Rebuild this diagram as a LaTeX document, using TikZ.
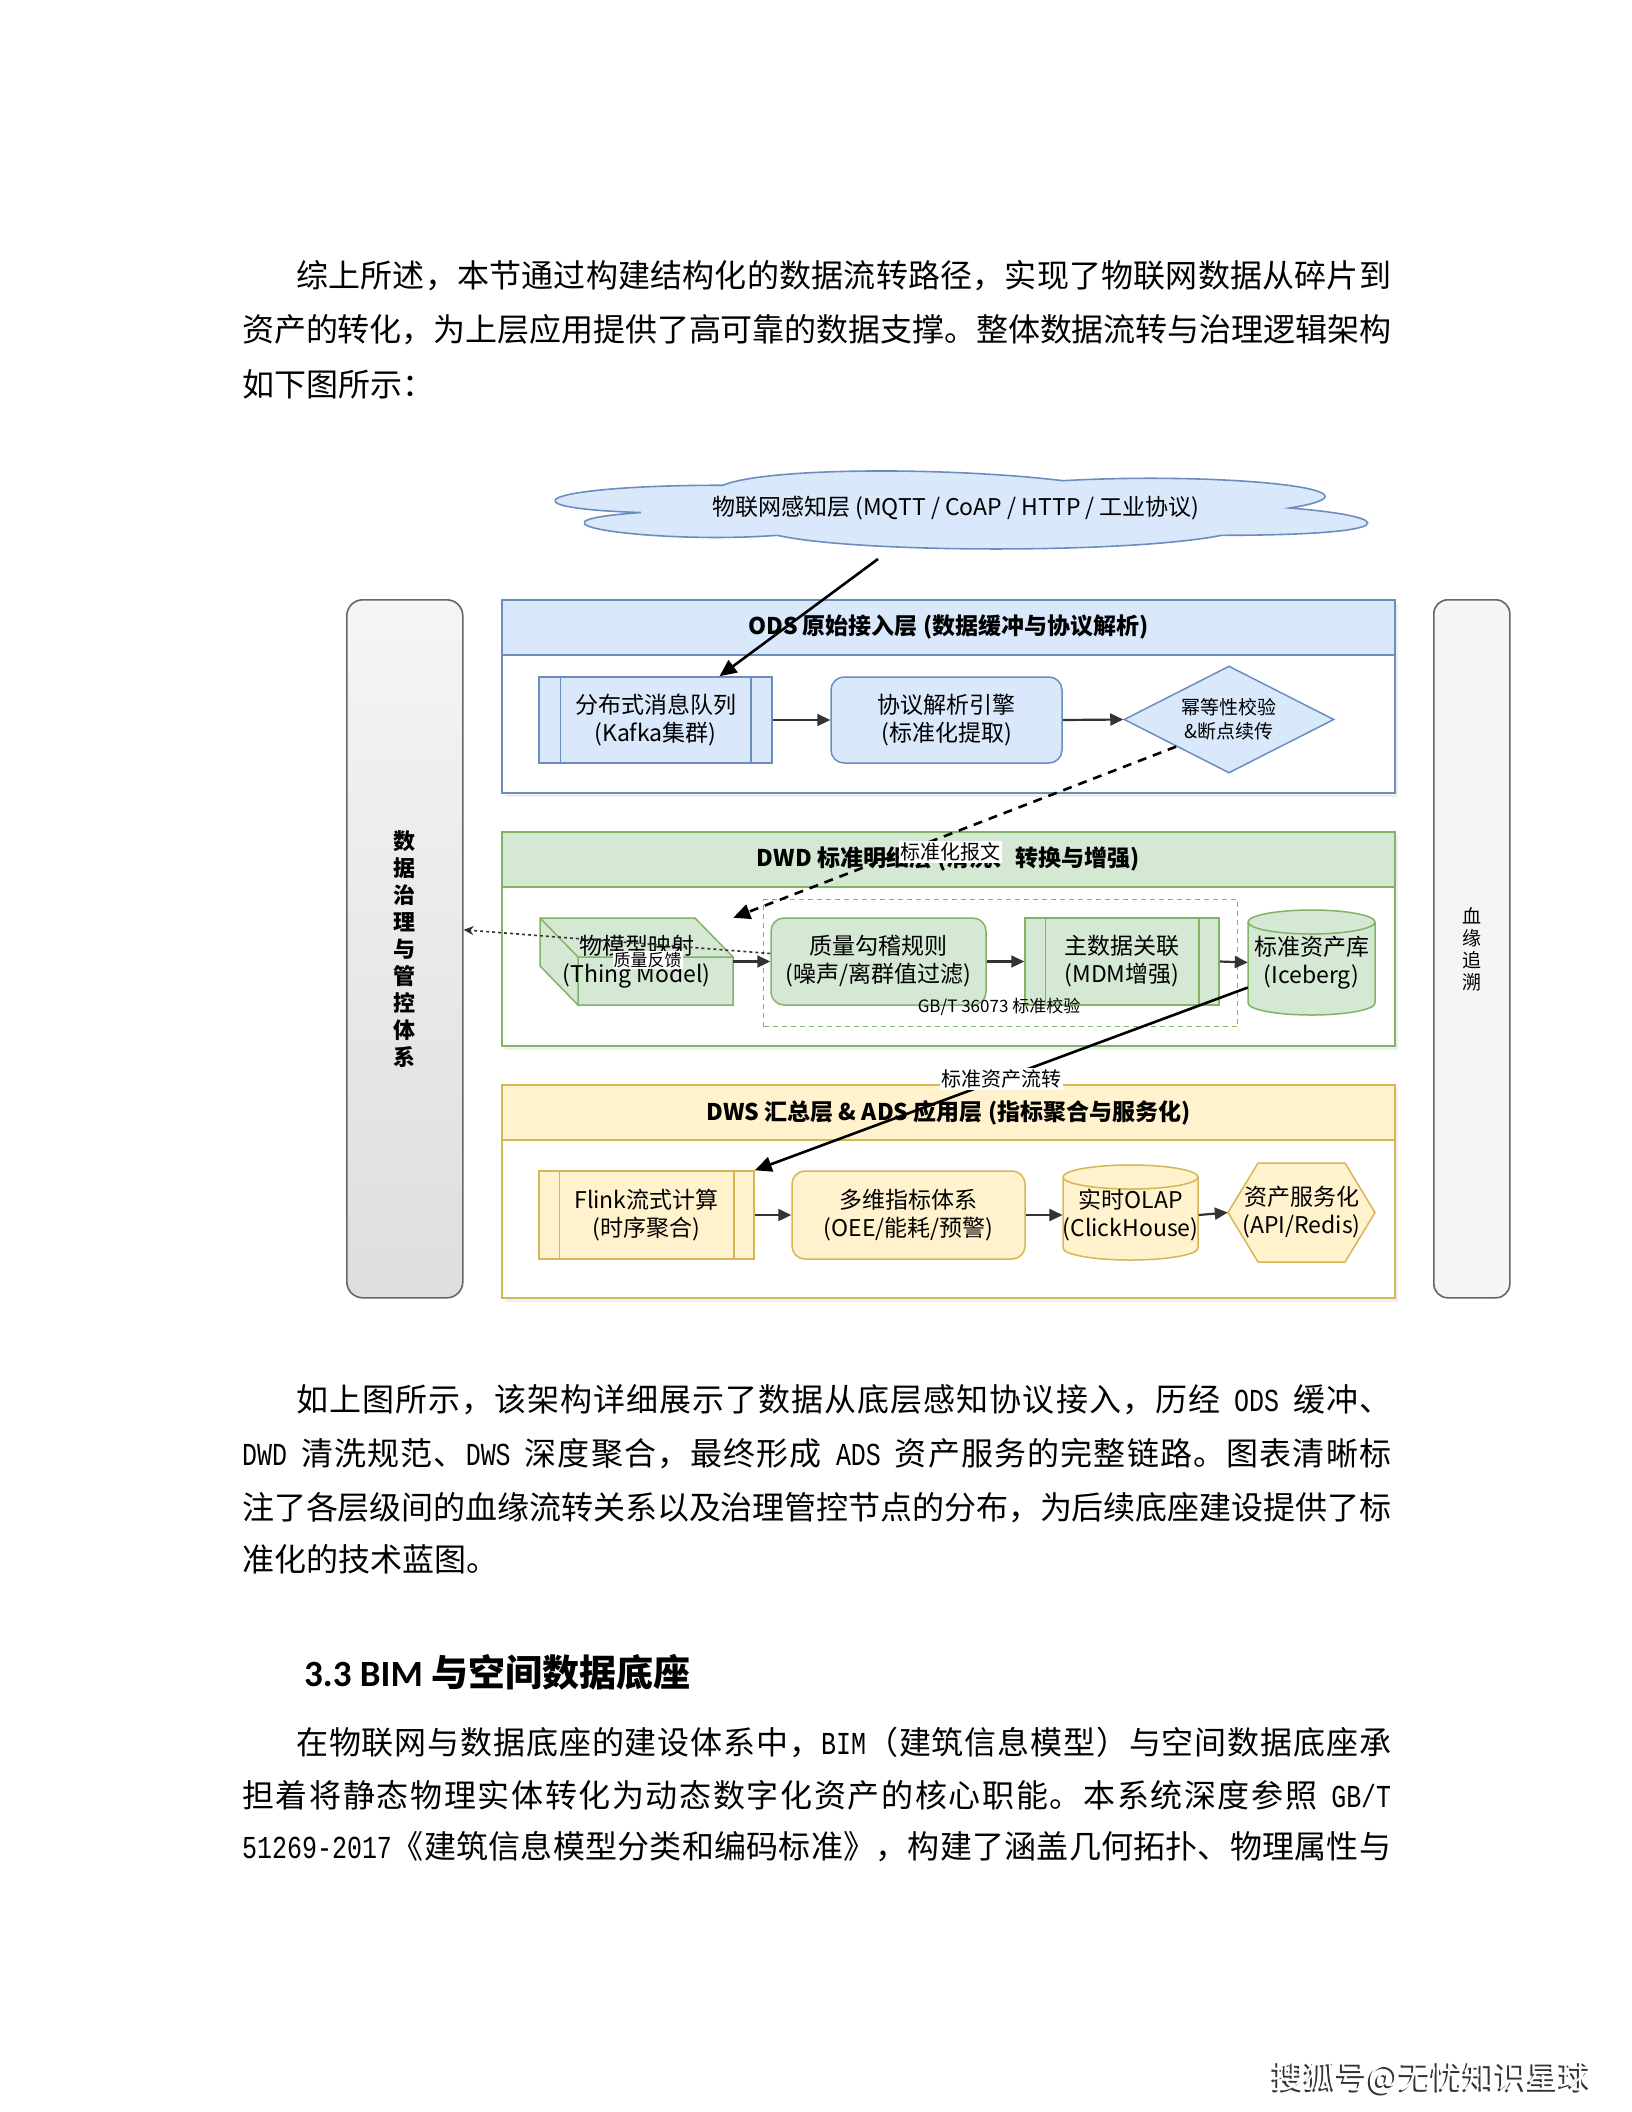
\documentclass[tikz,border=0pt]{standalone}
\usepackage{fontspec}
\setmainfont{Noto Sans CJK SC}
\newfontfamily\latmono[Scale=1.0,FakeStretch=0.78]{Liberation Mono}
\newfontfamily\headlat{Carlito}
% stretchable glue between CJK characters (for justified body lines)
\count255="4E00
\loop \XeTeXcharclass\count255=9 \ifnum\count255<"9FFF \advance\count255 by 1 \repeat
\XeTeXcharclass"FF0C=9 \XeTeXcharclass"3002=9 \XeTeXcharclass"3001=9 \XeTeXcharclass"FF1A=9
\XeTeXcharclass"300A=9 \XeTeXcharclass"300B=9 \XeTeXcharclass"FF08=9 \XeTeXcharclass"FF09=9
\XeTeXinterchartoks 9 9 = {\hskip 0pt plus 3pt minus 0.5pt\relax}
\XeTeXinterchartokenstate=1
\usetikzlibrary{shapes.geometric,arrows.meta,calc,shadows}
\definecolor{bF}{HTML}{DAE8FC}
\definecolor{bS}{HTML}{6C8EBF}
\definecolor{gF}{HTML}{D5E8D4}
\definecolor{gS}{HTML}{82B366}
\definecolor{yF}{HTML}{FFF2CC}
\definecolor{yS}{HTML}{D6B656}
\definecolor{grS}{HTML}{666666}
\newcommand\bodyfont{\fontsize{32}{32}\selectfont}
\newcommand\lsp{\hspace{14pt}}
\begin{document}
\begin{tikzpicture}[x=1pt,y=-1pt,
  cont/.style={draw=#1, line width=1.8pt, fill=white, anchor=north west, inner sep=0pt,
    minimum width=893pt, drop shadow={shadow xshift=3pt, shadow yshift=-4pt, opacity=0.12}},
  hdr/.style 2 args={draw=#1, fill=#2, line width=1.8pt, anchor=north west, inner sep=0pt,
    minimum width=893pt, minimum height=55pt, font=\fontsize{23}{27}\selectfont\bfseries},
  bx/.style 2 args={draw=#1, fill=#2, line width=1.5pt, inner sep=0pt, align=center,
    font=\fontsize{23}{28}\selectfont},
  txt/.style={inner sep=0pt, align=center, font=\fontsize{23}{28}\selectfont},
  flow/.style={draw=black!80, line width=2.2pt, -{Triangle[length=13pt,width=12pt]}},
  bigarrow/.style={draw=black, line width=2.6pt, -{Triangle[length=17pt,width=15pt]}},
  dasharrow/.style={draw=black, line width=2.6pt, dash pattern=on 9pt off 7pt,
    -{Triangle[length=17pt,width=15pt]}},
  fbarrow/.style={draw=black!80, line width=1.6pt, dash pattern=on 3pt off 3pt,
    -{Stealth[length=10pt,width=9pt]}},
  lbl/.style={fill=white, inner sep=1.5pt, font=\fontsize{20}{22}\selectfont},
  lbls/.style={fill=white, inner sep=1pt, font=\fontsize{17}{19}\selectfont},
  body/.style={anchor=west, inner sep=0pt, font=\bodyfont},
]
\useasboundingbox (0,0) rectangle (1632,2112);
\fill[white] (0,0) rectangle (1632,2112);

% ---------------- body text ----------------
\node[body] (p1a) at (296,276) {\makebox[1095pt][s]{综上所述，本节通过构建结构化的数据流转路径，实现了物联网数据从碎片到}};
\node[body] (p1b) at (242,330) {\makebox[1149pt][s]{资产的转化，为上层应用提供了高可靠的数据支撑。整体数据流转与治理逻辑架构}};
\node[body] (p1c) at (242,384) {如下图所示：};

\node[body] (p2a) at (296,1400) {\makebox[1095pt][s]{如上图所示，该架构详细展示了数据从底层感知协议接入，历经\lsp{\latmono ODS}\lsp 缓冲、}};
\node[body] (p2b) at (242,1454) {\makebox[1149pt][s]{{\latmono DWD}\lsp 清洗规范、{\latmono DWS}\lsp 深度聚合，最终形成\lsp{\latmono ADS}\lsp 资产服务的完整链路。图表清晰标}};
\node[body] (p2c) at (242,1508) {\makebox[1149pt][s]{注了各层级间的血缘流转关系以及治理管控节点的分布，为后续底座建设提供了标}};
\node[body] (p2d) at (242,1559) {准化的技术蓝图。};

\node[anchor=west, inner sep=0pt, font=\fontsize{37}{37}\selectfont\bfseries] (h33) at (304,1672)
  {{\headlat\bfseries 3.3 BIM} 与空间数据底座};

\node[body] (p3a) at (296,1742) {\makebox[1095pt][s]{在物联网与数据底座的建设体系中，{\latmono BIM}（建筑信息模型）与空间数据底座承}};
\node[body] (p3b) at (242,1795) {\makebox[1149pt][s]{担着将静态物理实体转化为动态数字化资产的核心职能。本系统深度参照\lsp{\latmono GB/T}}};
\node[body] (p3c) at (242,1847) {\makebox[1149pt][s]{{\latmono 51269-2017}《建筑信息模型分类和编码标准》，构建了涵盖几何拓扑、物理属性与}};

% footer
\node[inner sep=0pt, font=\fontsize{32}{32}\selectfont, text=black!80] (footS) at (1430,2080) {搜狐号@无忧知识星球};
\node[inner sep=0pt, font=\fontsize{32}{32}\selectfont, text=white] (foot) at (1432,2078) {搜狐号@无忧知识星球};

% ---------------- diagram ----------------
% side bars
\node[draw=grS, line width=1.6pt, rounded corners=16pt, top color=black!4, bottom color=black!13,
  minimum width=116pt, minimum height=698pt, anchor=north west, inner sep=0pt, align=center,
  font=\fontsize{22}{27}\selectfont\bfseries] (gov) at (346,599)
  {数\\据\\治\\理\\与\\管\\控\\体\\系};
\node[draw=grS, line width=1.6pt, rounded corners=14pt, fill=black!4,
  minimum width=76pt, minimum height=698pt, anchor=north west, inner sep=0pt, align=center,
  font=\fontsize{19}{22}\selectfont] (lin) at (1433,599)
  {血\\缘\\追\\溯};

% cloud
\begin{scope}[shift={(496,462.5)}, x=907pt, y=-91pt]
\draw[draw=bS, fill=bF, line width=1.6pt]
  (0.25,0.25) .. controls (0.05,0.25) and (0,0.5) .. (0.16,0.55)
  .. controls (0,0.66) and (0.18,0.9) .. (0.31,0.8)
  .. controls (0.4,1) and (0.7,1) .. (0.8,0.8)
  .. controls (1,0.8) and (1,0.6) .. (0.875,0.5)
  .. controls (1,0.3) and (0.8,0.1) .. (0.625,0.2)
  .. controls (0.5,0.05) and (0.3,0.05) .. (0.25,0.25) -- cycle;
\end{scope}
\node[txt] (cloud) at (956,508) {物联网感知层 (MQTT / CoAP / HTTP / 工业协议)};
\coordinate (cloudout) at (878,559);

% ODS container
\node[cont=bS, minimum height=193pt] (ods) at (501,599) {};
\node[hdr={bS}{bF}] (odsh) at (501,599) {ODS 原始接入层 (数据缓冲与协议解析)};
\node[bx={bS}{bF}, minimum width=233pt, minimum height=86pt] (kafka) at (655.5,720)
  {分布式消息队列\\(Kafka集群)};
\draw[bS, line width=1.5pt] ([xshift=22pt]kafka.north west) -- ([xshift=22pt]kafka.south west);
\draw[bS, line width=1.5pt] ([xshift=-22pt]kafka.north east) -- ([xshift=-22pt]kafka.south east);
\node[bx={bS}{bF}, rounded corners=13pt, minimum width=231pt, minimum height=86pt] (engine) at (946.5,720)
  {协议解析引擎\\(标准化提取)};
\node[bx={bS}{bF}, diamond, aspect=1.96, minimum width=210pt, minimum height=107pt,
  font=\fontsize{19}{24}\selectfont] (diam) at (1229,719.5) {幂等性校验\\\&断点续传};

% DWD container
\node[cont=gS, minimum height=214pt] (dwd) at (501,831) {};
\node[hdr={gS}{gF}] (dwdh) at (501,831) {DWD 标准明细层 (清洗、转换与增强)};
\node[draw=gS, line width=1.4pt, dash pattern=on 5pt off 4pt, anchor=north west,
  minimum width=474pt, minimum height=127pt, inner sep=0pt] (grp) at (763,899) {};
% cube
\draw[draw=gS, fill=gF, line width=1.5pt]
  (540,918) -- (695,918) -- (733,957) -- (733,1005) -- (578,1005) -- (540,966) -- cycle;
\draw[draw=gS, line width=1.5pt] (540,918) -- (578,957) -- (733,957) (578,957) -- (578,1005);
\node[txt, minimum width=193pt, minimum height=87pt] (thing) at (636.5,961.5) {物模型映射\\(Thing Model)};
\node[bx={gS}{gF}, rounded corners=13pt, minimum width=215pt, minimum height=87pt] (qual) at (878.5,961.5)
  {质量勾稽规则\\(噪声/离群值过滤)};
\node[bx={gS}{gF}, minimum width=194pt, minimum height=87pt] (mdm) at (1122,961.5)
  {主数据关联\\(MDM增强)};
\draw[gS, line width=1.5pt] ([xshift=21pt]mdm.north west) -- ([xshift=21pt]mdm.south west);
\draw[gS, line width=1.5pt] ([xshift=-21pt]mdm.north east) -- ([xshift=-21pt]mdm.south east);
% iceberg cylinder
\draw[draw=gS, fill=gF, line width=1.5pt]
  (1248,922) -- (1248,1003) arc[start angle=180, end angle=360, x radius=63.5pt, y radius=12pt]
  -- (1375,922) arc[start angle=0, end angle=180, x radius=63.5pt, y radius=12pt] -- cycle;
\draw[draw=gS, line width=1.5pt] (1248,922) arc[start angle=180, end angle=360, x radius=63.5pt, y radius=12pt];
\node[txt, minimum width=127pt, minimum height=105pt] (ice) at (1311.5,962.5) {标准资产库\\(Iceberg)};
\node[inner sep=0pt, font=\fontsize{17}{19}\selectfont] (gbt) at (999,1007) {GB/T 36073 标准校验};

% DWS container
\node[cont=yS, minimum height=213pt] (dws) at (501,1084) {};
\node[hdr={yS}{yF}] (dwsh) at (501,1084) {DWS 汇总层 \& ADS 应用层 (指标聚合与服务化)};
\node[bx={yS}{yF}, minimum width=215pt, minimum height=88pt] (flink) at (646.5,1215)
  {Flink流式计算\\(时序聚合)};
\draw[yS, line width=1.5pt] ([xshift=21pt]flink.north west) -- ([xshift=21pt]flink.south west);
\draw[yS, line width=1.5pt] ([xshift=-21pt]flink.north east) -- ([xshift=-21pt]flink.south east);
\node[bx={yS}{yF}, rounded corners=13pt, minimum width=233pt, minimum height=88pt] (multi) at (908.5,1215)
  {多维指标体系\\(OEE/能耗/预警)};
% olap cylinder
\draw[draw=yS, fill=yF, line width=1.5pt]
  (1063,1177) -- (1063,1248) arc[start angle=180, end angle=360, x radius=67.5pt, y radius=12pt]
  -- (1198,1177) arc[start angle=0, end angle=180, x radius=67.5pt, y radius=12pt] -- cycle;
\draw[draw=yS, line width=1.5pt] (1063,1177) arc[start angle=180, end angle=360, x radius=67.5pt, y radius=12pt];
\node[txt, minimum width=135pt, minimum height=95pt] (olap) at (1130.5,1215) {实时OLAP\\(ClickHouse)};
% hexagon
\draw[draw=yS, fill=yF, line width=1.5pt]
  (1228,1212.5) -- (1258,1163) -- (1345,1163) -- (1375,1212.5) -- (1345,1262) -- (1258,1262) -- cycle;
\node[txt, minimum width=147pt, minimum height=99pt] (hexn) at (1301.5,1212.5) {资产服务化\\(API/Redis)};

% ---------------- connectors ----------------
\draw[flow] (kafka.east) -- (engine.west);
\draw[flow] (engine.east) -- (diam.west);
\draw[flow] (thing.east) -- (qual.west);
\draw[flow] (qual.east) -- (mdm.west);
\draw[flow] (mdm.east) -- (ice.west);
\draw[flow] (flink.east) -- (multi.west);
\draw[flow] (multi.east) -- (olap.west);
\draw[flow] (olap.east) -- (hexn.west);

\draw[bigarrow] (cloudout) -- ([xshift=64pt]kafka.north);
\draw[dasharrow] (diam.south west) -- node[lbl, pos=0.51, yshift=-18pt] {标准化报文} (thing.north east);
\draw[fbarrow] ([yshift=8pt]qual.west) -- node[lbls, pos=0.4, yshift=-16pt] {质量反馈} ([yshift=19pt]gov.east);
\draw[bigarrow] ([yshift=-25pt]ice.west) -- node[lbl, pos=0.5] {标准资产流转} (flink.north east);
\end{tikzpicture}
\end{document}
